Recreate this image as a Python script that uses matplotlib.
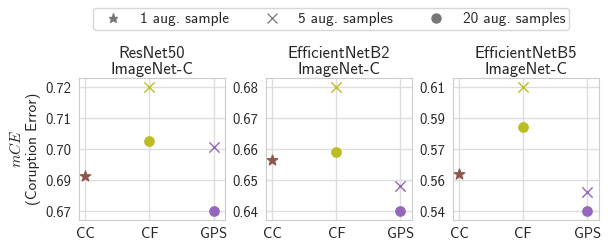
import matplotlib
matplotlib.use('Agg')
import matplotlib.pyplot as plt
import numpy as np
import seaborn as sns
from matplotlib.lines import Line2D

sns.set_style('whitegrid')
plt.rcParams['font.family'] = ['cmss10', 'DejaVu Sans']
plt.rcParams['mathtext.fontset'] = 'cm'
plt.rcParams['axes.unicode_minus'] = False

# --- data
models = ['ResNet50', 'EfficientNetB2', 'EfficientNetB5']
methods = ['CC', 'CF', 'GPS']
one_sample = [0.6843, 0.6566, 0.5610]          # CC only
five_samples = [[0.7200, 0.6959],              # CF, GPS
                [0.6800, 0.6480],
                [0.6100, 0.5507]]
twenty_samples = [[0.6983, 0.6700],            # CF, GPS
                  [0.6590, 0.6400],
                  [0.5875, 0.5400]]
tick_range = [(0.67, 0.72), (0.64, 0.68), (0.54, 0.61)]
tick_labels = [['0.67', '0.69', '0.70', '0.71', '0.72'],
               ['0.64', '0.65', '0.66', '0.67', '0.68'],
               ['0.54', '0.56', '0.57', '0.59', '0.61']]

colors = {'CC': '#8c564b', 'CF': '#bcbd22', 'GPS': '#9467bd'}
txt = '#262626'

fig, axes = plt.subplots(1, 3, figsize=(6.08, 2.4), dpi=100)
fig.subplots_adjust(left=0.130, right=0.985, top=0.674, bottom=0.082, wspace=0.28)

x = np.arange(len(methods))
for i, ax in enumerate(axes):
    ax.scatter(x[0], one_sample[i], marker='*', s=60, color=colors['CC'], zorder=3)
    for j, m in enumerate(methods[1:]):
        ax.scatter(x[j + 1], five_samples[i][j], marker='x', s=55, linewidths=1.0,
                   color=colors[m], zorder=3)
        ax.scatter(x[j + 1], twenty_samples[i][j], marker='o', s=45,
                   color=colors[m], zorder=3)

    lo, hi = tick_range[i]
    r = hi - lo
    ax.set_yticks(np.linspace(lo, hi, 5))
    ax.set_yticklabels(tick_labels[i])
    ax.set_ylim(lo - 0.075 * r, hi + 0.072 * r)
    ax.set_xticks(x)
    ax.set_xticklabels(methods)
    ax.set_xlim(-0.1, 2.18)
    ax.tick_params(axis='y', labelsize=10.5, colors=txt, pad=2)
    ax.tick_params(axis='x', labelsize=10.5, colors=txt, pad=1)
    ax.set_title(f'{models[i]}\nImageNet-C', fontsize=12, color=txt, pad=3,
                 linespacing=1.05)
    ax.grid(color='#dddddd', linewidth=1.0)
    for sp in ax.spines.values():
        sp.set_color('#cccccc')

axes[0].set_ylabel('$mCE$\n(Coruption Error)', fontsize=11, color=txt, labelpad=3)

handles = [
    Line2D([], [], linestyle='none', marker='*', markersize=6.5, color='#777777'),
    Line2D([], [], linestyle='none', marker='x', markersize=7, markeredgewidth=0.9,
           color='#777777'),
    Line2D([], [], linestyle='none', marker='o', markersize=6.5, color='#777777'),
]
leg = fig.legend(handles, ['1 aug. sample', '5 aug. samples', '20 aug. samples'],
                 loc='upper center', bbox_to_anchor=(0.5445, 0.965), ncol=3,
                 fontsize=11, frameon=True, handlelength=2.1, handletextpad=0.7,
                 columnspacing=1.75, borderpad=0.25, borderaxespad=0)
for t in leg.get_texts():
    t.set_color(txt)
leg.get_frame().set_edgecolor('#cccccc')

fig.savefig('out.png', dpi=100)
